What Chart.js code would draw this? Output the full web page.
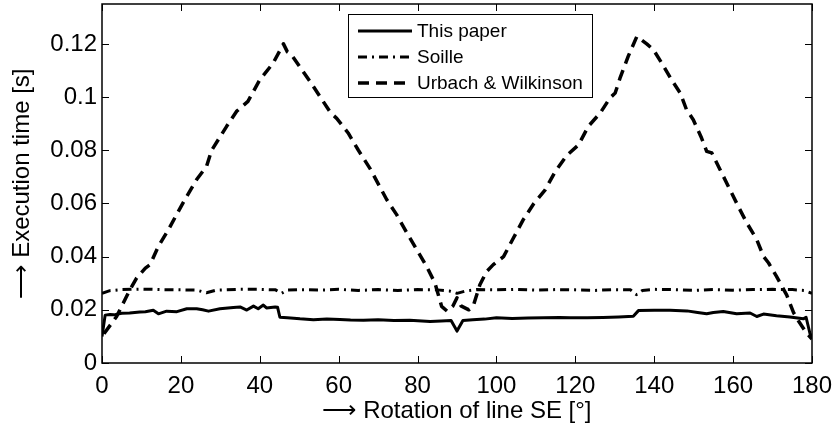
<!DOCTYPE html>
<html>
<head>
<meta charset="utf-8">
<title>Execution time vs rotation of line SE</title>
<script src="https://cdn.jsdelivr.net/npm/chart.js@4.4.0/dist/chart.umd.min.js"></script>
<style>
    html, body { margin: 0; padding: 0; background: #fff; }
    canvas { display: block; }
</style>
</head>
<body>
<canvas id="timeChart" width="836" height="428"></canvas>
<script>
// Axis ticks
const xTicks = [0, 20, 40, 60, 80, 100, 120, 140, 160, 180];
const yTicks = [0, 0.02, 0.04, 0.06, 0.08, 0.1, 0.12];

// This paper (solid)
const thisPaperDeg = [0, 0.8, 2, 3, 5, 7, 9.6, 11, 13, 14.3, 16.4, 19, 21.5, 24, 25.5, 27, 29.9, 33.3, 35, 36.7,
    38.4, 39.6, 40.9, 41.7, 43.9, 44.5, 45.1, 47, 50.2, 53.6, 57, 60.3, 63, 66.3, 70, 74, 78, 83.2, 86, 88.5,
    90, 91.5, 94, 97, 100, 104, 108, 112, 116, 118.7, 123, 127, 131, 134.7, 136, 140, 144, 148.3, 151, 153.3,
    155, 157.5, 160.9, 164.3, 166, 167.7, 171, 174.4, 177.8, 178.5, 179.5, 180];
const thisPaperTime = [0.0100, 0.0180, 0.0182, 0.0181, 0.0187, 0.0188, 0.0192, 0.0193, 0.0198, 0.0185, 0.0195, 0.0193, 0.0204, 0.0204, 0.0200, 0.0195, 0.0204, 0.0209, 0.0211, 0.0199,
    0.0214, 0.0204, 0.0218, 0.0207, 0.0211, 0.0210, 0.0172, 0.0170, 0.0166, 0.0163, 0.0165, 0.0164, 0.0162, 0.0161, 0.0163, 0.0160, 0.0161, 0.0156, 0.0158, 0.0160,
    0.0120, 0.0160, 0.0163, 0.0165, 0.0170, 0.0167, 0.0169, 0.0170, 0.0171, 0.0170, 0.0170, 0.0171, 0.0173, 0.0176, 0.0197, 0.0198, 0.0198, 0.0196, 0.0190, 0.0185,
    0.0190, 0.0194, 0.0185, 0.0188, 0.0175, 0.0184, 0.0178, 0.0173, 0.0166, 0.0172, 0.0110, 0.0095];

// Soille (dash-dot)
const soilleDeg = [0, 2, 5, 10, 15, 20, 24, 26.5, 29, 35, 40, 44, 45.5, 47, 50, 55, 60, 65, 70, 75,
    80, 85, 88, 90, 92, 95, 100, 105, 110, 115, 120, 125, 130, 134, 135.5, 137, 140, 145, 150, 155,
    160, 165, 170, 175, 178, 180];
const soilleTime = [0.0262, 0.0272, 0.0276, 0.0278, 0.0276, 0.0275, 0.0274, 0.0264, 0.0274, 0.0277, 0.0277, 0.0275, 0.0262, 0.0274, 0.0276, 0.0274, 0.0277, 0.0273, 0.0276, 0.0273,
    0.0276, 0.0275, 0.0271, 0.0262, 0.0270, 0.0276, 0.0275, 0.0277, 0.0274, 0.0276, 0.0275, 0.0273, 0.0276, 0.0275, 0.0257, 0.0273, 0.0277, 0.0276, 0.0273, 0.0276,
    0.0274, 0.0276, 0.0277, 0.0276, 0.0273, 0.0262];

// Urbach & Wilkinson (dashed)
const urbachDeg = [0.5, 3.7, 5.4, 7.1, 8.8, 11, 12.2, 14.3, 16.8, 18.9, 21, 24, 26.5, 27.8, 31.6, 34.1, 37, 40, 43.4, 46,
    47, 48, 53, 58, 59.5, 62.4, 65, 68, 72.2, 74.7, 77.3, 79.8, 82.3, 84.4, 86.1, 87.5, 89, 90, 91, 93,
    94.1, 95.8, 97.5, 99.2, 101.8, 104.3, 106.8, 109.4, 112.3, 114.9, 117.8, 120.8, 123.3, 126.3, 128.8, 130.1, 131.3, 133.4, 135.6, 138.1,
    139.8, 141.9, 144.4, 146.6, 148.2, 149.9, 152, 153.3, 154.6, 156.7, 158.8, 161.3, 163.5, 166, 167.7, 169, 171, 173.6, 175.3, 176.5,
    178.5, 180];
const urbachTime = [0.0110, 0.0175, 0.0226, 0.0276, 0.0320, 0.0357, 0.0370, 0.0439, 0.0500, 0.0558, 0.0614, 0.0690, 0.0739, 0.0800, 0.0890, 0.0946, 0.0984, 0.1065, 0.1128, 0.1200,
    0.1170, 0.1160, 0.1053, 0.0940, 0.0920, 0.0865, 0.0800, 0.0730, 0.0614, 0.0558, 0.0489, 0.0426, 0.0363, 0.0301, 0.0213, 0.0195, 0.0215, 0.0245, 0.0215, 0.0200,
    0.0213, 0.0294, 0.0344, 0.0370, 0.0400, 0.0470, 0.0539, 0.0598, 0.0650, 0.0720, 0.0780, 0.0820, 0.0890, 0.0940, 0.0997, 0.1015, 0.1070, 0.1153, 0.1228, 0.1200,
    0.1178, 0.1128, 0.1065, 0.1015, 0.0952, 0.0915, 0.0846, 0.0796, 0.0790, 0.0727, 0.0664, 0.0589, 0.0526, 0.0464, 0.0401, 0.0376, 0.0326, 0.0255, 0.0190, 0.0160,
    0.0115, 0.0090];

const seriesLabels = ['This paper', 'Soille', 'Urbach & Wilkinson'];

const FONT = '"Liberation Sans", Arial, Helvetica, sans-serif';

function toPoints(xs, ys) {
    return xs.map((x, i) => ({ x: x, y: ys[i] }));
}

// Box around the axes with inward ticks on all four sides (MATLAB style)
const frameTicks = {
    id: 'frameTicks',
    afterDatasetsDraw(chart) {
        const { ctx, chartArea: a, scales } = chart;
        const len = 7;
        ctx.save();
        ctx.strokeStyle = '#000';
        ctx.lineWidth = 1;
        ctx.beginPath();
        xTicks.forEach(v => {
            const px = Math.round(scales.x.getPixelForValue(v)) + 0.5;
            ctx.moveTo(px, a.bottom); ctx.lineTo(px, a.bottom - len);
            ctx.moveTo(px, a.top); ctx.lineTo(px, a.top + len);
        });
        yTicks.forEach(v => {
            const py = Math.round(scales.y.getPixelForValue(v)) + 0.5;
            ctx.moveTo(a.left, py); ctx.lineTo(a.left + len, py);
            ctx.moveTo(a.right, py); ctx.lineTo(a.right - len, py);
        });
        ctx.stroke();
        ctx.lineWidth = 1.5;
        ctx.strokeRect(a.left, a.top, a.right - a.left, a.bottom - a.top);
        ctx.restore();
    }
};

// Boxed legend inside the plot, near the top middle
const boxedLegend = {
    id: 'boxedLegend',
    afterDraw(chart) {
        const { ctx } = chart;
        const datasets = chart.data.datasets;
        const box = { x: 348, y: 14, w: 244, h: 83 };
        const rowY = [31, 57, 83];
        ctx.save();
        ctx.fillStyle = '#fff';
        ctx.fillRect(box.x, box.y, box.w, box.h);
        ctx.strokeStyle = '#000';
        ctx.lineWidth = 1;
        ctx.strokeRect(box.x + 0.5, box.y + 0.5, box.w, box.h);
        datasets.forEach((ds, i) => {
            ctx.beginPath();
            ctx.setLineDash(ds.borderDash || []);
            ctx.lineWidth = ds.borderWidth;
            ctx.moveTo(358, rowY[i]);
            ctx.lineTo(412, rowY[i]);
            ctx.stroke();
            ctx.setLineDash([]);
            ctx.fillStyle = '#000';
            ctx.font = '19px ' + FONT;
            ctx.textBaseline = 'middle';
            ctx.textAlign = 'left';
            ctx.fillText(ds.label, 417, rowY[i] + 1);
        });
        ctx.restore();
    }
};

const ctx = document.getElementById('timeChart').getContext('2d');
new Chart(ctx, {
    type: 'line',
    data: {
        datasets: [
            {
                label: seriesLabels[0],
                data: toPoints(thisPaperDeg, thisPaperTime),
                borderColor: '#000',
                borderWidth: 3,
                borderDash: []
            },
            {
                label: seriesLabels[1],
                data: toPoints(soilleDeg, soilleTime),
                borderColor: '#000',
                borderWidth: 3,
                borderDash: [9, 5, 2, 5]
            },
            {
                label: seriesLabels[2],
                data: toPoints(urbachDeg, urbachTime),
                borderColor: '#000',
                borderWidth: 3.5,
                borderDash: [11, 7]
            }
        ]
    },
    options: {
        responsive: false,
        animation: false,
        devicePixelRatio: 1,
        layout: { padding: { top: 4, right: 24, left: 0, bottom: 0 } },
        elements: {
            point: { radius: 0 },
            line: { tension: 0, borderJoinStyle: 'round' }
        },
        plugins: {
            legend: { display: false },
            tooltip: { enabled: false }
        },
        scales: {
            x: {
                type: 'linear',
                min: 0,
                max: 180,
                grid: { display: false, drawTicks: false },
                border: { display: false },
                afterBuildTicks: scale => { scale.ticks = xTicks.map(v => ({ value: v })); },
                afterFit: scale => {
                    scale.height = 65;
                    scale.paddingLeft = 0;
                    scale.paddingRight = 0;
                },
                ticks: {
                    autoSkip: false,
                    maxRotation: 0,
                    padding: 9,
                    color: '#000',
                    font: { family: FONT, size: 24 },
                    callback: v => String(v)
                },
                title: {
                    display: true,
                    text: '\u27F6 Rotation of line SE [\u00b0]',
                    color: '#000',
                    font: { family: FONT, size: 24 },
                    padding: { top: 0, bottom: 2 }
                }
            },
            y: {
                type: 'linear',
                min: 0,
                max: 0.135,
                grid: { display: false, drawTicks: false },
                border: { display: false },
                afterBuildTicks: scale => { scale.ticks = yTicks.map(v => ({ value: v })); },
                afterFit: scale => {
                    scale.width = 102;
                    scale.paddingTop = 0;
                    scale.paddingBottom = 0;
                },
                ticks: {
                    padding: 5,
                    color: '#000',
                    font: { family: FONT, size: 24 },
                    callback: v => String(v)
                },
                title: {
                    display: true,
                    text: '\u27F6 Execution time [s]',
                    color: '#000',
                    font: { family: FONT, size: 24 },
                    padding: { top: 8, bottom: 0 }
                }
            }
        }
    },
    plugins: [frameTicks, boxedLegend]
});
</script>
</body>
</html>
